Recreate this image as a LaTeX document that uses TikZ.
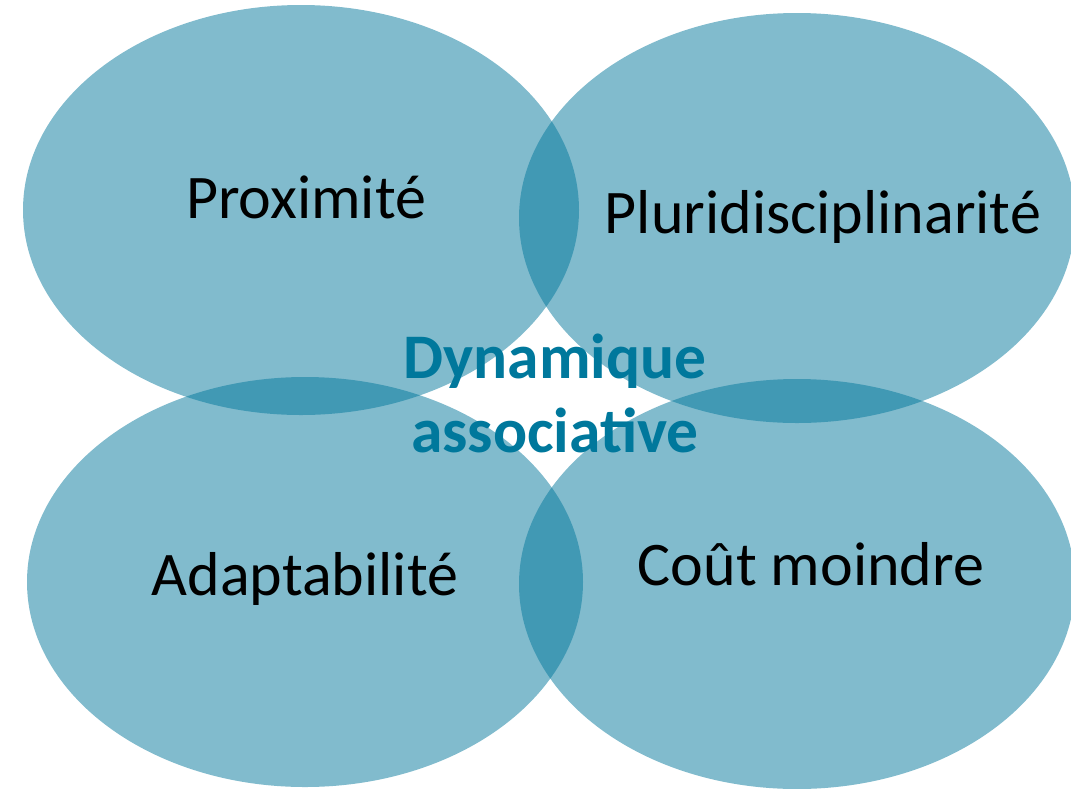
\documentclass[tikz,border=0pt]{standalone}
\usepackage{fontspec}
\setmainfont{Carlito}
\definecolor{teal}{RGB}{3,119,155}
\definecolor{darkteal}{RGB}{0,120,156}
\begin{document}
\begin{tikzpicture}[x=1pt,y=-1pt,
  bubble/.style={fill=teal,fill opacity=0.5},
  label/.style={anchor=base,inner sep=0pt,font=\fontsize{62}{74}\selectfont,text=black},
  centre/.style={anchor=base,inner sep=0pt,font=\fontsize{63.5}{76}\selectfont\bfseries,text=darkteal}]
\useasboundingbox (0,0) rectangle (1071,788);
\clip (0,0) rectangle (1071,788);
\fill[bubble] (301,210) ellipse [x radius=278,y radius=205];
\fill[bubble] (797,218) ellipse [x radius=278,y radius=205];
\fill[bubble] (305,582) ellipse [x radius=278,y radius=205];
\fill[bubble] (797,584) ellipse [x radius=278,y radius=205];
\node[label] (prox) at (306,218) {Proximité};
\node[label] (plur) at (823,233) {Pluridisciplinarité};
\node[label] (adap) at (305,595) {Adaptabilité};
\node[label] (cout) at (811,585) {Coût moindre};
\node[centre] (dyn) at (555,378) {Dynamique};
\node[centre] (asso) at (555,452) {associative};
\end{tikzpicture}
\end{document}
